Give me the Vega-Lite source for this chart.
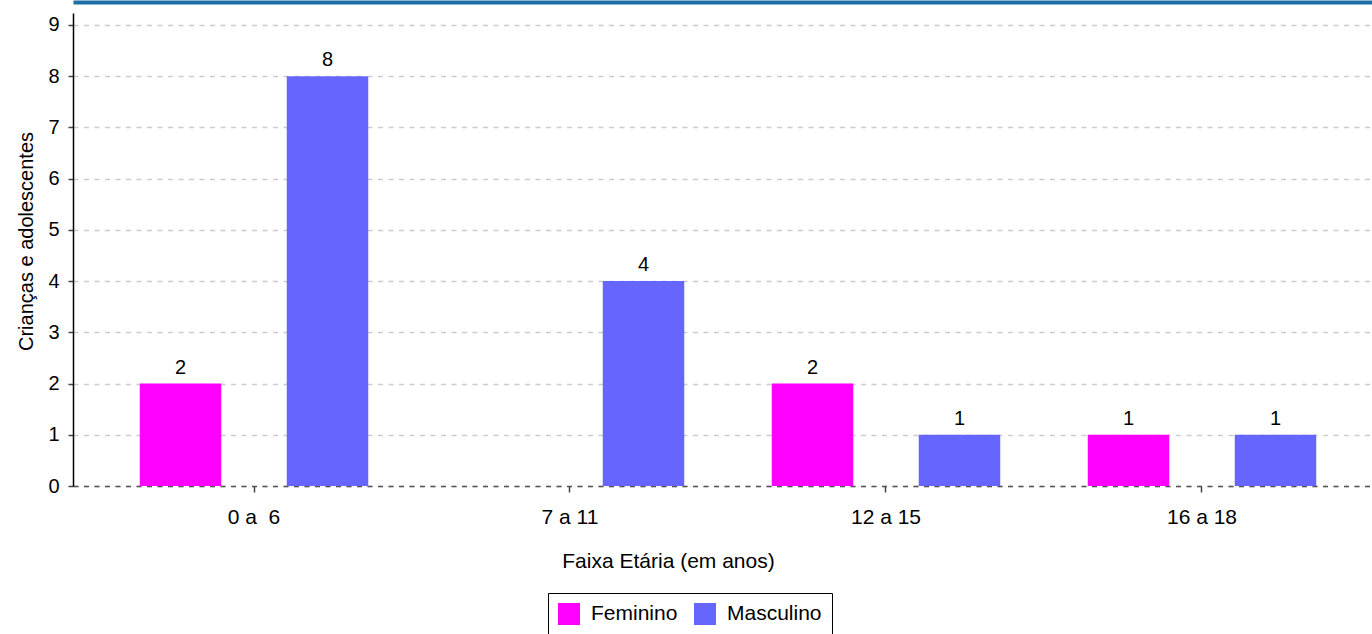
{
  "$schema": "https://vega.github.io/schema/vega-lite/v6.json",
  "width": 1299,
  "height": 473,
  "autosize": "none",
  "padding": {"left": 73, "top": 13, "right": 0, "bottom": 148},
  "background": "white",
  "config": {
    "view": {"stroke": null},
    "font": "Liberation Sans",
    "axis": {"labelColor": "black", "titleColor": "black", "titleFontWeight": "normal", "labelFont": "Liberation Sans", "titleFont": "Liberation Sans"},
    "legend": {"labelFont": "Liberation Sans"}
  },
  "data": {
    "values": [
      {"faixa": "0 a \u00a06", "sexo": "Feminino", "n": 2},
      {"faixa": "0 a \u00a06", "sexo": "Masculino", "n": 8},
      {"faixa": "7 a 11", "sexo": "Masculino", "n": 4},
      {"faixa": "12 a 15", "sexo": "Feminino", "n": 2},
      {"faixa": "12 a 15", "sexo": "Masculino", "n": 1},
      {"faixa": "16 a 18", "sexo": "Feminino", "n": 1},
      {"faixa": "16 a 18", "sexo": "Masculino", "n": 1}
    ]
  },
  "encoding": {
    "x": {
      "field": "faixa", "type": "nominal",
      "sort": ["0 a \u00a06", "7 a 11", "12 a 15", "16 a 18"],
      "scale": {"paddingInner": 0, "paddingOuter": 0.0554, "align": 0.657},
      "axis": {
        "title": "Faixa Etária (em anos)", "titleFontSize": 21, "titlePadding": 23, "titleX": 595,
        "labelAngle": 0, "labelFontSize": 21, "labelPadding": 14,
        "tickSize": 6, "tickColor": "#444444", "tickWidth": 1.5,
        "domainColor": "#555555", "domainWidth": 1.5, "domainDash": [5, 5.5]
      }
    },
    "xOffset": {
      "field": "sexo", "type": "nominal",
      "scale": {"domain": ["Feminino", "Masculino"], "paddingInner": 0.4456, "paddingOuter": 0.2977}
    },
    "y": {
      "field": "n", "type": "quantitative",
      "scale": {"domain": [0, 9.234], "nice": false},
      "axis": {
        "title": "Crianças e adolescentes", "titleFontSize": 20, "titlePadding": 11, "titleY": 228,
        "values": [0, 1, 2, 3, 4, 5, 6, 7, 8, 9],
        "labelFontSize": 20, "labelPadding": 9,
        "grid": true, "gridDash": [5, 5.5], "gridColor": "#cccccc", "gridWidth": 1.5,
        "domainColor": "black", "domainWidth": 1.5,
        "tickColor": "#444444", "tickSize": 5, "tickWidth": 1.5
      }
    }
  },
  "layer": [
    {
      "mark": {"type": "bar"},
      "encoding": {
        "color": {
          "field": "sexo", "type": "nominal",
          "scale": {"domain": ["Feminino", "Masculino"], "range": ["#ff00ff", "#6666ff"]},
          "legend": {
            "title": null, "orient": "none", "direction": "horizontal",
            "legendX": 475, "legendY": 580,
            "labelFontSize": 21, "labelColor": "black", "labelOffset": 11,
            "symbolType": "square", "symbolSize": 484, "symbolStrokeWidth": 0, "symbolOpacity": 1,
            "columnPadding": 16, "padding": 10,
            "strokeColor": "black"
          }
        }
      }
    },
    {
      "mark": {"type": "text", "fontSize": 20, "color": "black", "baseline": "alphabetic", "dy": -10},
      "encoding": {
        "x": {
          "field": "faixa", "type": "nominal",
          "sort": ["0 a \u00a06", "7 a 11", "12 a 15", "16 a 18"],
          "axis": {
            "orient": "top", "title": null, "labels": false, "ticks": false, "grid": false,
            "domainColor": "#1c6ea4", "domainWidth": 4, "offset": 11
          }
        },
        "text": {"field": "n", "type": "quantitative"}
      }
    }
  ],
  "resolve": {"axis": {"x": "independent"}}
}
